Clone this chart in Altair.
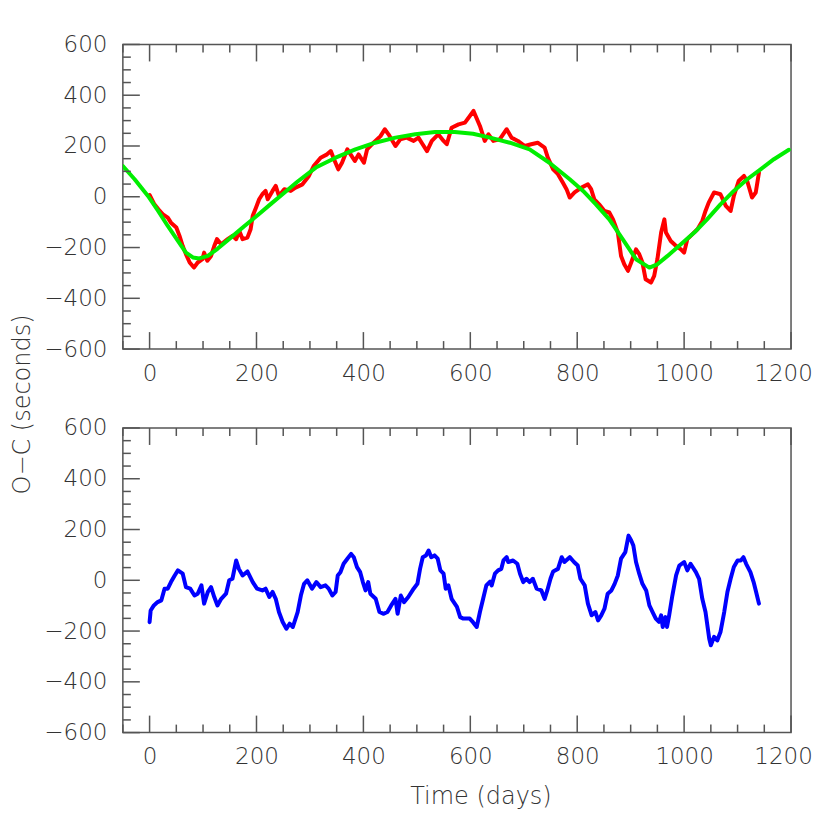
import altair as alt
import pandas as pd

# ---------------- data ----------------
red_t = [0, 9, 19, 25, 34, 40, 50, 56, 62, 68, 75, 83, 90, 99, 102, 108, 115, 121, 126, 134,
         146, 155, 162, 168, 174, 183, 189, 193, 199, 205, 211, 217, 221, 230, 236, 242, 252,
         264, 273, 286, 298, 307, 320, 332, 339, 345, 353, 360, 370, 376, 384, 391, 401, 407,
         419, 432, 440, 447, 460, 469, 481, 494, 503, 509, 519, 528, 540, 550, 556, 565, 578,
         590, 606, 618, 627, 634, 643, 655, 668, 677, 689, 702, 714, 726, 739, 745, 755, 764,
         773, 780, 786, 795, 808, 820, 826, 832, 841, 851, 860, 867, 876, 882, 888, 895, 901,
         910, 916, 922, 928, 938, 944, 950, 957, 963, 966, 975, 985, 994, 1000, 1006, 1015,
         1025, 1034, 1040, 1046, 1056, 1068, 1078, 1087, 1093, 1102, 1112, 1118, 1127, 1134, 1140]
red_oc = [7, -30, -56, -69, -82, -102, -121, -154, -194, -226, -259, -279, -259, -246, -220, -252,
          -233, -194, -167, -187, -167, -154, -167, -135, -167, -161, -128, -75, -43, -10, 10, 23,
          -10, 23, 43, 3, 30, 23, 36, 49, 82, 121, 154, 167, 180, 148, 108, 134, 187, 167, 141,
          167, 134, 187, 213, 239, 266, 246, 200, 226, 233, 220, 233, 213, 180, 220, 246, 220,
          207, 272, 285, 292, 338, 279, 220, 246, 220, 226, 266, 233, 220, 200, 207, 213, 194,
          154, 108, 89, 56, 30, -3, 17, 36, 49, 30, -10, -30, -56, -62, -89, -141, -233, -266,
          -292, -259, -207, -226, -259, -325, -338, -312, -246, -141, -89, -141, -174, -194, -207,
          -220, -167, -148, -128, -95, -56, -23, 17, 10, -36, -56, 3, 62, 82, 62, -3, 17, 95]

fit_t = [-50, -28, -3, 16, 34, 53, 68, 81, 93, 109, 127, 152, 177, 202, 227, 252, 277, 311, 348,
         385, 422, 460, 497, 534, 571, 605, 637, 674, 711, 748, 786, 811, 835, 860, 885, 910,
         935, 950, 969, 994, 1019, 1043, 1068, 1093, 1118, 1143, 1168, 1196]
fit_oc = [121, 69, 3, -56, -115, -174, -220, -239, -243, -233, -205, -161, -116, -73, -28, 16, 60,
          115, 154, 187, 213, 233, 246, 255, 255, 248, 233, 213, 187, 134, 69, 23, -30, -89, -167,
          -246, -279, -266, -233, -187, -141, -89, -30, 23, 69, 108, 148, 185]

res_t = [0, 2, 8, 15, 22, 28, 34, 40, 47, 53, 62, 68, 76, 84, 90, 97, 102, 109, 115, 121, 127,
         134, 143, 149, 155, 162, 167, 174, 183, 193, 201, 211, 217, 224, 230, 236, 242, 249, 256,
         262, 268, 277, 283, 289, 295, 304, 312, 320, 329, 335, 342, 348, 352, 357, 363, 370, 377,
         382, 388, 394, 399, 404, 409, 413, 423, 430, 438, 445, 452, 456, 460, 464, 470, 476, 484,
         494, 501, 506, 511, 517, 522, 527, 533, 539, 544, 550, 554, 559, 565, 575, 581, 587, 599,
         605, 612, 618, 624, 630, 637, 640, 646, 652, 658, 662, 668, 671, 680, 688, 693, 699, 705,
         711, 717, 724, 733, 739, 744, 750, 755, 764, 771, 776, 786, 794, 801, 806, 814, 820, 827,
         834, 839, 845, 851, 857, 864, 870, 876, 882, 890, 896, 901, 905, 910, 916, 922, 929, 935,
         941, 947, 953, 957, 960, 965, 968, 972, 978, 985, 991, 1000, 1006, 1012, 1022, 1028, 1034,
         1040, 1047, 1050, 1056, 1062, 1068, 1075, 1081, 1087, 1093, 1100, 1106, 1111, 1116, 1124,
         1130, 1134, 1140]
res_oc = [-165, -119, -99, -86, -79, -33, -33, -7, 19, 39, 26, -27, -33, -60, -53, -20, -92, -46,
          -27, -66, -99, -73, -53, 0, 6, 78, 45, 19, 35, -7, -33, -40, -33, -66, -46, -73, -125,
          -164, -191, -171, -184, -125, -60, -14, 0, -33, -7, -27, -20, -33, -60, -46, 19, 32, 65,
          85, 104, 91, 52, 32, -7, -40, -7, -53, -73, -125, -132, -125, -99, -86, -73, -132, -60,
          -86, -66, -33, -14, 45, 91, 98, 117, 91, 98, 85, 39, 26, -33, -20, -73, -105, -145, -151,
          -151, -165, -184, -125, -73, -20, -5, -20, 26, 39, 45, 78, 91, 72, 78, 65, 26, -7, 6, -7,
          6, -33, -40, -73, -40, 6, 35, 45, 91, 72, 91, 72, 58, 6, -20, -92, -138, -125, -158,
          -138, -112, -53, -40, -14, 19, 85, 111, 176, 157, 137, 72, 26, -14, -40, -99, -125, -151,
          -164, -138, -184, -145, -184, -138, -60, 19, 58, 72, 39, 65, 32, 6, -73, -125, -230, -256,
          -223, -237, -204, -125, -46, 6, 52, 78, 78, 91, 65, 32, -7, -40, -92]

x_major = [0, 200, 400, 600, 800, 1000, 1200]
x_minor = [-50, 50, 100, 150, 250, 300, 350, 450, 500, 550, 650, 700, 750, 850, 900, 950,
           1050, 1100, 1150]
y_major = [-600, -400, -200, 0, 200, 400, 600]
y_minor = [-550, -500, -450, -350, -300, -250, -150, -100, -50, 50, 100, 150, 250, 300, 350,
           450, 500, 550]

# ---------------- style ----------------
FONT = "DejaVu Sans"
FW = 200
FS = 23
TFS = 24
W, H = 669, 305
AX = "#555555"
TXT = "#333333"

xscale = alt.Scale(domain=[-50, 1200], nice=False, zero=False)
yscale = alt.Scale(domain=[-600, 600], nice=False, zero=False)

# keep the last x label inside the page
x_label_offset = {"condition": {"test": "datum.value == 1200", "value": -8}, "value": 0}


def x_axis(title=None, **kw):
    return alt.Axis(values=x_major, format="d", ticks=False, domain=False, grid=False,
                    labelFont=FONT, labelFontSize=FS, labelFontWeight=FW, labelColor=TXT,
                    labelPadding=13, labelFlush=False, labelOverlap=False,
                    labelOffset=x_label_offset,
                    title=title, titleFont=FONT, titleFontSize=TFS, titleFontWeight=FW,
                    titleColor=TXT, **kw)


def y_axis(title=None, **kw):
    return alt.Axis(values=y_major, format="d", ticks=False, domain=False, grid=False,
                    labelFont=FONT, labelFontSize=FS, labelFontWeight=FW, labelColor=TXT,
                    labelPadding=16, labelFlush=False, labelOverlap=False,
                    title=title, titleFont=FONT, titleFontSize=TFS, titleFontWeight=FW,
                    titleColor=TXT, **kw)


def X(xa=None):
    if xa is None:
        return alt.X("t:Q", scale=xscale)
    return alt.X("t:Q", scale=xscale, axis=xa)


def Y(ya=None):
    if ya is None:
        return alt.Y("v:Q", scale=yscale)
    return alt.Y("v:Q", scale=yscale, axis=ya)


def tick_layers():
    layers = []
    for vals, ln in ((x_major, 17), (x_minor, 8)):
        d = pd.DataFrame({"t": vals})
        layers.append(alt.Chart(d).mark_rule(color=AX, strokeWidth=1.5).encode(
            x=X(), y=alt.value(H), y2=alt.value(H - ln)))
        layers.append(alt.Chart(d).mark_rule(color=AX, strokeWidth=1.5).encode(
            x=X(), y=alt.value(0), y2=alt.value(ln)))
    for vals, ln in ((y_major, 17), (y_minor, 8)):
        d = pd.DataFrame({"v": vals})
        layers.append(alt.Chart(d).mark_rule(color=AX, strokeWidth=1.5).encode(
            y=Y(), x=alt.value(0), x2=alt.value(ln)))
    return layers


def line(t, v, color, xa=None, ya=None):
    d = pd.DataFrame({"t": t, "v": v})
    return alt.Chart(d).mark_line(color=color, strokeWidth=4, strokeJoin="round",
                                  strokeCap="round", clip=True).encode(
        x=X(xa), y=Y(ya), order="t:Q")


top = alt.layer(
    line(red_t, red_oc, "#ff0000", x_axis(), y_axis()),
    line(fit_t, fit_oc, "#00ee00"),
    *tick_layers(),
).properties(width=W, height=H)

bottom = alt.layer(
    line(res_t, res_oc, "#0000ff",
         x_axis("Time  (days)", titleX=358, titleY=64, titleAlign="center",
                titleBaseline="middle", titleAnchor="start"),
         y_axis("O\u2212C  (seconds)", titleX=-100, titleY=-24, titleAngle=270,
                titleAlign="center", titleBaseline="middle", titleAnchor="start")),
    *tick_layers(),
).properties(width=W, height=H)

chart = alt.vconcat(top, bottom, spacing=79, bounds="flush").properties(
    padding={"left": 2, "top": 24, "right": 0, "bottom": 0}
).configure_view(stroke=AX, strokeWidth=1.5)

chart.save("out.html", embed_options={"renderer": "svg", "actions": False})
